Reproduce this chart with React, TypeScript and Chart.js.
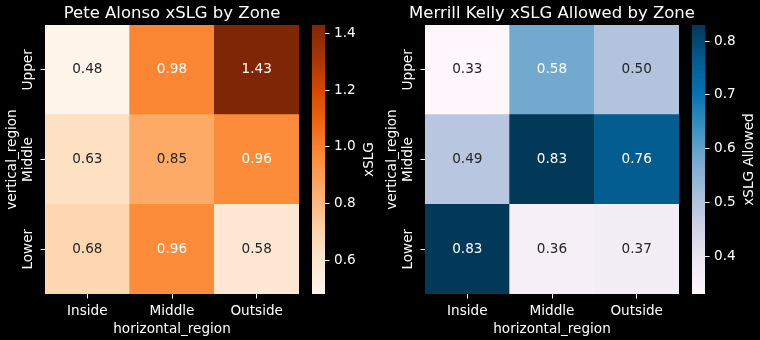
import React, { useEffect, useRef } from 'react';
import { Chart, registerables } from 'chart.js';

Chart.register(...registerables);

const FONT = "'DejaVu Sans', sans-serif";
const TEXT = '#ffffff';
const DARK_TEXT = '#262626';

const horizontalRegions = ['Inside', 'Middle', 'Outside'];
// rows listed bottom to top
const verticalRegions = ['Lower', 'Middle', 'Upper'];

const alonsoLower = [0.68, 0.96, 0.58];
const alonsoMiddle = [0.63, 0.85, 0.96];
const alonsoUpper = [0.48, 0.98, 1.43];

const kellyLower = [0.83, 0.36, 0.37];
const kellyMiddle = [0.49, 0.83, 0.76];
const kellyUpper = [0.33, 0.58, 0.5];

const alonsoTicks = [0.6, 0.8, 1.0, 1.2, 1.4];
const kellyTicks = [0.4, 0.5, 0.6, 0.7, 0.8];

const ORANGES = ['#fff5eb', '#fee6ce', '#fdd0a2', '#fdae6b', '#fd8d3c', '#f16913', '#d94801', '#a63603', '#7f2704'];
const PUBU = ['#fff7fb', '#ece7f2', '#d0d1e6', '#a6bddb', '#74a9cf', '#3690c0', '#0570b0', '#045a8d', '#023858'];

function hexToRgb(h: string): number[] {
  const n = parseInt(h.slice(1), 16);
  return [(n >> 16) & 255, (n >> 8) & 255, n & 255];
}

function cmapRgb(nodes: string[], t: number): number[] {
  const tt = Math.max(0, Math.min(1, t));
  const pos = tt * (nodes.length - 1);
  const i = Math.min(nodes.length - 2, Math.floor(pos));
  const f = pos - i;
  const a = hexToRgb(nodes[i]);
  const b = hexToRgb(nodes[i + 1]);
  return [0, 1, 2].map((k) => Math.round(a[k] + (b[k] - a[k]) * f));
}

function rgbStr(c: number[]) {
  return `rgb(${c[0]},${c[1]},${c[2]})`;
}

function luminance(c: number[]) {
  const lin = c.map((v) => {
    const s = v / 255;
    return s <= 0.03928 ? s / 12.92 : Math.pow((s + 0.055) / 1.055, 2.4);
  });
  return 0.2126 * lin[0] + 0.7152 * lin[1] + 0.0722 * lin[2];
}

const FS = 13.6;
const TICK_FONT = { family: FONT, size: FS, weight: 'normal' as const };

type PanelProps = {
  offset: number;
  title: string;
  rows: number[][];
  cmap: string[];
  cbarLabel: string;
  cbarTicks: number[];
};

function Panel({ offset, title, rows, cmap, cbarLabel, cbarTicks }: PanelProps) {
  const heatRef = useRef<HTMLCanvasElement>(null);
  const barRef = useRef<HTMLCanvasElement>(null);

  useEffect(() => {
    const all = rows.flat();
    const vmin = Math.min(...all);
    const vmax = Math.max(...all);
    const norm = (v: number) => (v - vmin) / (vmax - vmin);

    const annotate = {
      id: 'annotate',
      afterDatasetsDraw(chart: any) {
        const ctx = chart.ctx;
        ctx.save();
        ctx.font = `${FS}px ${FONT}`;
        ctx.textAlign = 'center';
        ctx.textBaseline = 'middle';
        chart.data.datasets.forEach((ds: any, di: number) => {
          const meta = chart.getDatasetMeta(di);
          meta.data.forEach((el: any, j: number) => {
            const v = rows[di][j];
            const p = el.getProps(['x', 'y', 'base'], true);
            const col = cmapRgb(cmap, norm(v));
            ctx.fillStyle = luminance(col) > 0.408 ? DARK_TEXT : TEXT;
            ctx.fillText(v.toFixed(2), p.x, (p.y + p.base) / 2);
          });
        });
        ctx.restore();
      },
    };

    const labels = {
      id: 'labels',
      afterDraw(chart: any) {
        const ctx = chart.ctx;
        const s = chart.scales.y;
        const a = chart.chartArea;
        ctx.save();
        ctx.font = `${FS}px ${FONT}`;
        ctx.fillStyle = TEXT;
        ctx.textAlign = 'center';
        ctx.textBaseline = 'bottom';
        s.ticks.forEach((t: any, i: number) => {
          const y = s.getPixelForValue(t.value);
          ctx.save();
          ctx.translate(a.left - 9.5, y);
          ctx.rotate(-Math.PI / 2);
          ctx.fillText(verticalRegions[i], 0, 0);
          ctx.restore();
        });
        // panel title, centred over the heatmap
        ctx.font = `16.5px ${FONT}`;
        ctx.textBaseline = 'alphabetic';
        ctx.fillText(title, (a.left + a.right) / 2, 17.5);
        ctx.restore();
      },
    };

    const heat = new Chart(heatRef.current as HTMLCanvasElement, {
      type: 'bar',
      data: {
        labels: horizontalRegions,
        datasets: rows.map((r, i) => ({
          label: verticalRegions[i],
          data: r.map(() => 1),
          backgroundColor: r.map((v) => rgbStr(cmapRgb(cmap, norm(v)))),
          borderWidth: 0,
          barPercentage: 1,
          categoryPercentage: 1,
        })),
      },
      options: {
        responsive: false,
        animation: false,
        events: [],
        layout: { padding: { left: 0, right: 45, top: 25, bottom: 0 } },
        plugins: {
          legend: { display: false },
          tooltip: { enabled: false },
          title: { display: false },
        },
        scales: {
          x: {
            type: 'category',
            stacked: true,
            offset: true,
            grid: { display: true, drawOnChartArea: false, drawTicks: true, tickLength: 4.5, color: TEXT, offset: false },
            border: { display: false },
            ticks: { color: TEXT, font: TICK_FONT, padding: 4.5, maxRotation: 0 },
            title: {
              display: true,
              text: 'horizontal_region',
              color: TEXT,
              font: TICK_FONT,
              padding: { top: 0, bottom: 2.5 },
            },
            afterFit: (s: any) => {
              s.height = 46;
            },
          },
          y: {
            type: 'linear',
            stacked: true,
            min: 0,
            max: 3,
            grid: { display: true, drawOnChartArea: false, drawTicks: true, tickLength: 4.5, color: TEXT },
            border: { display: false },
            ticks: { display: false },
            afterBuildTicks: (s: any) => {
              s.ticks = verticalRegions.map((_, i) => ({ value: i + 0.5 }));
            },
            title: {
              display: true,
              text: 'vertical_region',
              color: TEXT,
              font: TICK_FONT,
              padding: { top: 4, bottom: 0 },
            },
            afterFit: (s: any) => {
              s.width = 45;
            },
          },
        },
      } as any,
      plugins: [annotate, labels],
    });

    const cbarTitle = {
      id: 'cbarTitle',
      afterDraw(chart: any) {
        const ctx = chart.ctx;
        const a = chart.chartArea;
        ctx.save();
        ctx.font = `${FS}px ${FONT}`;
        ctx.fillStyle = TEXT;
        ctx.textAlign = 'center';
        ctx.textBaseline = 'middle';
        ctx.translate(69.5, (a.top + a.bottom) / 2);
        ctx.rotate(-Math.PI / 2);
        ctx.fillText(cbarLabel, 0, 0);
        ctx.restore();
      },
    };

    const cbar = new Chart(barRef.current as HTMLCanvasElement, {
      type: 'bar',
      data: {
        labels: [cbarLabel],
        datasets: [
          {
            data: [[vmin, vmax]],
            backgroundColor: (c: any) => {
              const ch = c.chart;
              const ys = ch.scales.y;
              if (!ch.chartArea || !ys) return cmap[0];
              const g = ch.ctx.createLinearGradient(0, ys.getPixelForValue(vmin), 0, ys.getPixelForValue(vmax));
              cmap.forEach((col, i) => g.addColorStop(i / (cmap.length - 1), col));
              return g;
            },
            borderWidth: 0,
            barPercentage: 1,
            categoryPercentage: 1,
          },
        ],
      },
      options: {
        responsive: false,
        animation: false,
        events: [],
        layout: { padding: { left: 12, top: 25, bottom: 46, right: 0 } },
        plugins: { legend: { display: false }, tooltip: { enabled: false } },
        scales: {
          x: { display: false },
          y: {
            position: 'right',
            min: vmin,
            max: vmax,
            afterBuildTicks: (s: any) => {
              s.ticks = cbarTicks.map((v) => ({ value: v }));
            },
            ticks: {
              color: TEXT,
              font: TICK_FONT,
              padding: 4.5,
              callback: (v: any) => Number(v).toFixed(1),
            },
            grid: { display: true, drawOnChartArea: false, drawTicks: true, tickLength: 4.5, color: TEXT },
            border: { display: false },
            afterFit: (s: any) => {
              s.width = 55;
            },
          },
        },
      } as any,
      plugins: [cbarTitle],
    });

    return () => {
      heat.destroy();
      cbar.destroy();
    };
  }, []);

  return (
    <>
      <canvas
        ref={heatRef}
        width={344}
        height={340}
        style={{ position: 'absolute', left: offset, top: 0, width: 344, height: 340 }}
      />
      <canvas
        ref={barRef}
        width={80}
        height={340}
        style={{ position: 'absolute', left: offset + 300, top: 0, width: 80, height: 340 }}
      />
    </>
  );
}

export default function App() {
  return (
    <div
      style={{
        position: 'absolute',
        left: 0,
        top: 0,
        width: 760,
        height: 340,
        background: '#000',
        overflow: 'hidden',
      }}
    >
      <Panel
        offset={0}
        title="Pete Alonso xSLG by Zone"
        rows={[alonsoLower, alonsoMiddle, alonsoUpper]}
        cmap={ORANGES}
        cbarLabel="xSLG"
        cbarTicks={alonsoTicks}
      />
      <Panel
        offset={380}
        title="Merrill Kelly xSLG Allowed by Zone"
        rows={[kellyLower, kellyMiddle, kellyUpper]}
        cmap={PUBU}
        cbarLabel="xSLG Allowed"
        cbarTicks={kellyTicks}
      />
    </div>
  );
}
